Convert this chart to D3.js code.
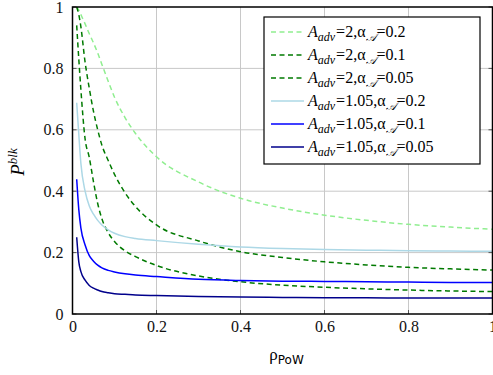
<!DOCTYPE html>
<html>
<head>
<meta charset="utf-8">
<script src="https://cdn.jsdelivr.net/npm/d3@7"></script>
<style>
  body { margin: 0; background: #fff; }
  svg { display: block; }
  svg text { font-family: "Liberation Serif", "Times New Roman", Times, "DejaVu Serif", serif; }
</style>
</head>
<body>
<div id="chart"></div>
<script>
// sample points along rho_PoW
const rho = [0.01, 0.015, 0.02, 0.03, 0.04, 0.05, 0.06, 0.07, 0.085, 0.1, 0.125, 0.15, 0.2, 0.3, 0.4, 0.5, 0.6, 0.7, 0.8, 0.9, 1.0];

const a2_02   = [1.0, 0.99, 0.975, 0.945, 0.913, 0.883, 0.85, 0.813, 0.758, 0.706, 0.64, 0.588, 0.512, 0.43, 0.377, 0.345, 0.322, 0.305, 0.292, 0.283, 0.276];
const a2_01   = [1.0, 0.975, 0.935, 0.82, 0.735, 0.66, 0.6, 0.55, 0.5, 0.455, 0.395, 0.35, 0.29, 0.238, 0.203, 0.184, 0.170, 0.160, 0.152, 0.147, 0.143];
const a2_005  = [0.94, 0.83, 0.73, 0.57, 0.51, 0.43, 0.36, 0.31, 0.265, 0.236, 0.206, 0.187, 0.158, 0.124, 0.105, 0.094, 0.087, 0.082, 0.078, 0.075, 0.073];
const a105_02  = [0.688, 0.585, 0.49, 0.40, 0.352, 0.325, 0.305, 0.29, 0.274, 0.263, 0.252, 0.246, 0.239, 0.227, 0.218, 0.213, 0.210, 0.208, 0.206, 0.205, 0.204];
const a105_01  = [0.439, 0.34, 0.28, 0.225, 0.19, 0.172, 0.159, 0.15, 0.142, 0.137, 0.131, 0.127, 0.122, 0.113, 0.109, 0.107, 0.106, 0.105, 0.104, 0.103, 0.103];
const a105_005 = [0.25, 0.17, 0.138, 0.11, 0.093, 0.084, 0.078, 0.073, 0.069, 0.066, 0.064, 0.062, 0.06, 0.057, 0.055, 0.054, 0.053, 0.053, 0.052, 0.052, 0.052];

const seriesNames = [
  {a: '2', alpha: '0.2'}, {a: '2', alpha: '0.1'}, {a: '2', alpha: '0.05'},
  {a: '1.05', alpha: '0.2'}, {a: '1.05', alpha: '0.1'}, {a: '1.05', alpha: '0.05'}
];
const seriesValues = [a2_02, a2_01, a2_005, a105_02, a105_01, a105_005];
const seriesColors = ['#90ee90', '#007a00', '#007a00', '#add8e6', '#0000ff', '#00008b'];
const seriesDashed = [true, true, true, false, false, false];

const xTicks = [0, 0.2, 0.4, 0.6, 0.8, 1];
const yTicks = [0, 0.2, 0.4, 0.6, 0.8, 1];

const serif = '"Liberation Serif", "Times New Roman", Times, "DejaVu Serif", serif';

const width = 493, height = 375;
const margin = {top: 7, right: 0.5, bottom: 61, left: 72.5};
const w = width - margin.left - margin.right;
const h = height - margin.top - margin.bottom;

const svg = d3.select('#chart').append('svg')
  .attr('width', width)
  .attr('height', height)
  .attr('font-family', serif);

const g = svg.append('g')
  .attr('transform', 'translate(' + margin.left + ',' + margin.top + ')');

const x = d3.scaleLinear().domain([0, 1]).range([0, w]);
const y = d3.scaleLinear().domain([0, 1]).range([h, 0]);

// grid
g.append('g').selectAll('line.gx')
  .data(xTicks.slice(1, -1)).enter().append('line')
  .attr('x1', d => x(d)).attr('x2', d => x(d))
  .attr('y1', 0).attr('y2', h)
  .attr('stroke', '#c8c8c8').attr('stroke-width', 1);
g.append('g').selectAll('line.gy')
  .data(yTicks.slice(1, -1)).enter().append('line')
  .attr('y1', d => y(d)).attr('y2', d => y(d))
  .attr('x1', 0).attr('x2', w)
  .attr('stroke', '#c8c8c8').attr('stroke-width', 1);

// axes (labels only)
const xAxis = g.append('g')
  .attr('transform', 'translate(0,' + h + ')')
  .call(d3.axisBottom(x).tickValues(xTicks).tickFormat(d3.format('')).tickSize(0).tickPadding(7));
const yAxis = g.append('g')
  .call(d3.axisLeft(y).tickValues(yTicks).tickFormat(d3.format('')).tickSize(0).tickPadding(9));
[xAxis, yAxis].forEach(a => {
  a.attr('font-family', serif).attr('font-size', 16);
  a.select('.domain').remove();
  a.selectAll('text').attr('fill', '#111');
});

// small tick marks on the frame
g.append('g').selectAll('line.tx')
  .data(xTicks).enter().append('line')
  .attr('x1', d => x(d)).attr('x2', d => x(d))
  .attr('y1', h).attr('y2', h - 4)
  .attr('stroke', '#555');
g.append('g').selectAll('line.ty')
  .data(yTicks).enter().append('line')
  .attr('y1', d => y(d)).attr('y2', d => y(d))
  .attr('x1', 0).attr('x2', 4)
  .attr('stroke', '#555');
g.append('g').selectAll('line.ty2')
  .data(yTicks).enter().append('line')
  .attr('y1', d => y(d)).attr('y2', d => y(d))
  .attr('x1', w).attr('x2', w - 4)
  .attr('stroke', '#555');

// lines
svg.append('defs').append('clipPath').attr('id', 'clip')
  .append('rect').attr('x', 0).attr('y', 0).attr('width', w).attr('height', h);

const line = d3.line()
  .x((d, i) => x(rho[i]))
  .y(d => y(d))
  .curve(d3.curveMonotoneX);

g.append('g').attr('clip-path', 'url(#clip)')
  .selectAll('path')
  .data(seriesValues).enter().append('path')
  .attr('fill', 'none')
  .attr('d', d => line(d))
  .attr('stroke', (d, i) => seriesColors[i])
  .attr('stroke-width', 1.5)
  .attr('stroke-dasharray', (d, i) => seriesDashed[i] ? '5,3.5' : null);

// frame
g.append('rect')
  .attr('x', 0).attr('y', 0).attr('width', w).attr('height', h)
  .attr('fill', 'none').attr('stroke', '#000').attr('stroke-width', 1.5);

// axis titles
const xl = svg.append('text')
  .attr('x', margin.left + w / 2 + 4)
  .attr('y', 360)
  .attr('text-anchor', 'middle')
  .attr('font-size', '17px');
xl.append('tspan').text('\u03c1');
xl.append('tspan').attr('dy', 4).attr('font-size', '12px')
  .style('font-family', '"DejaVu Sans", sans-serif').text('PoW');

const yl = svg.append('text')
  .attr('transform', 'translate(24,' + 162 + ') rotate(-90)')
  .attr('text-anchor', 'middle')
  .attr('font-size', '19px');
yl.append('tspan').attr('font-style', 'italic').text('P');
yl.append('tspan').attr('dy', -7).attr('font-size', '13px').attr('font-style', 'italic').text('blk');

// legend
const legend = svg.append('g').attr('transform', 'translate(264,17)');
legend.append('rect')
  .attr('width', 216).attr('height', 147)
  .attr('fill', '#fff').attr('stroke', '#000').attr('stroke-width', 1.2);

const rows = legend.selectAll('g.row')
  .data(seriesNames).enter().append('g')
  .attr('transform', (d, i) => 'translate(0,' + (15 + i * 23) + ')');

rows.append('line')
  .attr('x1', 7).attr('x2', 40).attr('y1', 0).attr('y2', 0)
  .attr('stroke', (d, i) => seriesColors[i])
  .attr('stroke-width', 1.5)
  .attr('stroke-dasharray', (d, i) => seriesDashed[i] ? '5,3.5' : null);

const lt = rows.append('text')
  .attr('x', 44).attr('y', 5)
  .attr('font-size', '16px');
lt.append('tspan').attr('font-style', 'italic').text('A');
lt.append('tspan').attr('font-style', 'italic').attr('font-size', '12px').attr('dy', 4).text('adv');
lt.append('tspan').attr('dy', -4).attr('dx', 1).text('=');
lt.append('tspan').text(d => d.a + ',\u03b1');
lt.append('tspan').attr('font-size', '11px').attr('dy', 4).attr('font-style', 'italic').text('\ud835\udc9c');
lt.append('tspan').attr('dy', -4).attr('dx', 1).text(d => '=' + d.alpha);
</script>
</body>
</html>
